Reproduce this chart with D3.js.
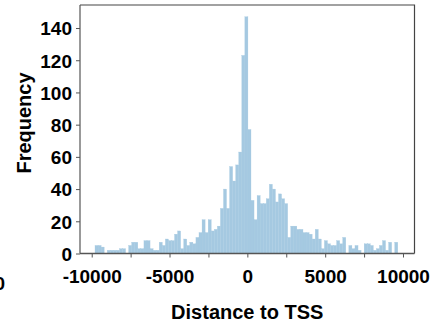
<!DOCTYPE html>
<html>
<head>
<meta charset="utf-8">
<script src="https://cdn.jsdelivr.net/npm/d3@7"></script>
<style>
  html, body { margin: 0; padding: 0; background: #fff; }
  svg { display: block; }
  text { font-family: "Liberation Sans", Arial, sans-serif; font-weight: bold; fill: #000; }
</style>
</head>
<body>
<svg id="chart" width="434" height="326"></svg>
<script>
// ---- data ----
const binStart = -9788;
const binWidth = 196.5;
const counts = [
  5, 5, 4, 0, 2, 2, 2, 2, 3, 3,
  0, 5, 7, 7, 3, 3, 8, 8, 3, 2,
  2, 7, 5, 9, 8, 8, 12, 14, 3, 9,
  5, 7, 6, 10, 13, 21, 13, 21, 14, 15,
  17, 28, 40, 28, 54, 45, 55, 63, 123, 147,
  77, 33, 21, 36, 31, 31, 34, 43, 40, 32,
  37, 34, 31, 10, 17, 17, 15, 15, 13, 13,
  12, 9, 15, 9, 3, 8, 6, 5, 5, 8,
  6, 10, 0, 5, 3, 5, 2, 0, 6, 6,
  5, 2, 3, 5, 8, 2, 7, 0, 7, 0
];
const xTickValues = [-10000, -7500, -5000, -2500, 0, 2500, 5000, 7500, 10000];
const xTickLabels = ["-10000", "", "-5000", "", "0", "", "5000", "", "10000"];
const yTickValues = [0, 20, 40, 60, 80, 100, 120, 140];
const xLabel = "Distance to TSS";
const yLabel = "Frequency";

// ---- layout ----
const pLeft = 80, pRight = 414.5, pTop = 5, pBottom = 253.5;
const svg = d3.select("#chart");

const x = d3.scaleLinear().domain([-10752, 10739]).range([pLeft, pRight]);
const y = d3.scaleLinear().domain([0, 154.3]).range([pBottom, pTop]);

const bins = counts.map((c, i) => ({ x0: binStart + i * binWidth, x1: binStart + (i + 1) * binWidth, n: c }));

svg.append("g")
  .selectAll("rect")
  .data(bins.filter(d => d.n > 0))
  .join("rect")
  .attr("x", d => x(d.x0))
  .attr("width", d => x(d.x1) - x(d.x0))
  .attr("y", d => y(d.n))
  .attr("height", d => y(0) - y(d.n))
  .attr("fill", "#a5c9e1")
  .attr("stroke", "#a5c9e1")
  .attr("stroke-width", 0.3);

// frame (top / right)
svg.append("path")
  .attr("d", `M${pLeft},${pTop}H${pRight}V${pBottom}`)
  .attr("fill", "none")
  .attr("stroke", "#444")
  .attr("stroke-width", 1.2);

// axes
const xAxis = d3.axisBottom(x)
  .tickValues(xTickValues)
  .tickFormat((d, i) => xTickLabels[i])
  .tickSize(4)
  .tickPadding(12);
const gx = svg.append("g").attr("transform", `translate(0,${pBottom})`).call(xAxis);
gx.select(".domain").attr("d", `M${pLeft},0H${pRight}`).attr("stroke", "#555").attr("stroke-width", 1.6);
gx.selectAll(".tick line").attr("stroke", "#555").attr("stroke-width", 1);
gx.selectAll(".tick text").attr("font-size", 19).attr("font-family", "Liberation Sans, Arial, sans-serif").attr("font-weight", "bold").attr("fill", "#000");

const yAxis = d3.axisLeft(y)
  .tickValues(yTickValues)
  .tickSize(4)
  .tickPadding(4);
const gy = svg.append("g").attr("transform", `translate(${pLeft},0)`).call(yAxis);
gy.select(".domain").attr("d", `M0,${pBottom}V${pTop}`).attr("stroke", "#555").attr("stroke-width", 1.2);
gy.selectAll(".tick line").attr("stroke", "#555").attr("stroke-width", 1);
gy.selectAll(".tick text").attr("font-size", 19).attr("font-family", "Liberation Sans, Arial, sans-serif").attr("font-weight", "bold").attr("fill", "#000").attr("dy", "0.36em");

// axis labels
svg.append("text")
  .attr("x", (pLeft + pRight) / 2)
  .attr("y", 319)
  .attr("text-anchor", "middle")
  .attr("font-size", 20)
  .text(xLabel);

svg.append("text")
  .attr("transform", `translate(31,123) rotate(-90)`)
  .attr("text-anchor", "middle")
  .attr("font-size", 20)
  .text(yLabel);

// stray label clipped at the left edge (as in the reference)
svg.append("text")
  .attr("x", 5)
  .attr("y", 290)
  .attr("text-anchor", "end")
  .attr("font-size", 19)
  .text("0");
</script>
</body>
</html>
